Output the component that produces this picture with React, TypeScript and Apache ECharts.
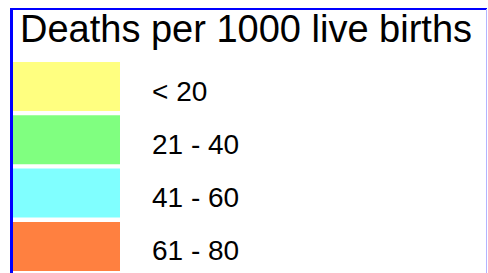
import React, { useEffect, useRef } from "react";
import * as echarts from "echarts";

const titleText = "Deaths per 1000 live births";
const binLabels = ["< 20", "21 - 40", "41 - 60", "61 - 80"];
const binMin = [0, 21, 41, 61];
const binMax = [20, 40, 60, 80];
const binColors = ["#FFFF80", "#80FF80", "#80FFFF", "#FF8040"];

export default function App() {
  const ref = useRef<HTMLDivElement>(null);
  useEffect(() => {
    document.body.style.margin = "0";
    const chart = echarts.init(ref.current!, null, { renderer: "svg" });
    const pieces = binLabels.map((label, i) => ({
      min: binMin[i],
      max: binMax[i],
      label: "{t|" + label + "}",
      color: binColors[i],
    }));
    chart.setOption({
      animation: false,
      backgroundColor: "#ffffff",
      title: {
        text: titleText,
        left: 20,
        top: 10,
        padding: 0,
        textStyle: {
          fontFamily: "Liberation Sans, Arial, sans-serif",
          fontSize: 38,
          fontWeight: "normal",
          color: "#000000",
        },
      },
      visualMap: {
        type: "piecewise",
        pieces,
        orient: "vertical",
        inverse: true,
        left: 13,
        top: 62,
        padding: 0,
        itemWidth: 107,
        itemHeight: 49,
        itemGap: 4.3,
        itemSymbol: "rect",
        textGap: 32,
        selectedMode: false,
        showLabel: true,
        textStyle: {
          fontFamily: "Liberation Sans, Arial, sans-serif",
          fontSize: 28,
          color: "#000000",
          rich: {
            t: {
              fontFamily: "Liberation Sans, Arial, sans-serif",
              fontSize: 28,
              color: "#000000",
              padding: [9, 0, 0, 0],
            },
          },
        },
      },
      graphic: [
        { type: "line", shape: { x1: 11, y1: 9, x2: 487, y2: 9 }, style: { stroke: "#0000ff", lineWidth: 2 } },
        { type: "line", shape: { x1: 11.5, y1: 8, x2: 11.5, y2: 273 }, style: { stroke: "#0000ff", lineWidth: 3 } },
        { type: "line", shape: { x1: 486.5, y1: 9, x2: 486.5, y2: 273 }, style: { stroke: "#b4b4ff", lineWidth: 1 } },
      ],
      series: [],
    });
    return () => chart.dispose();
  }, []);
  return <div ref={ref} style={{ position: "fixed", left: 0, top: 0, width: 488, height: 273 }} />;
}
